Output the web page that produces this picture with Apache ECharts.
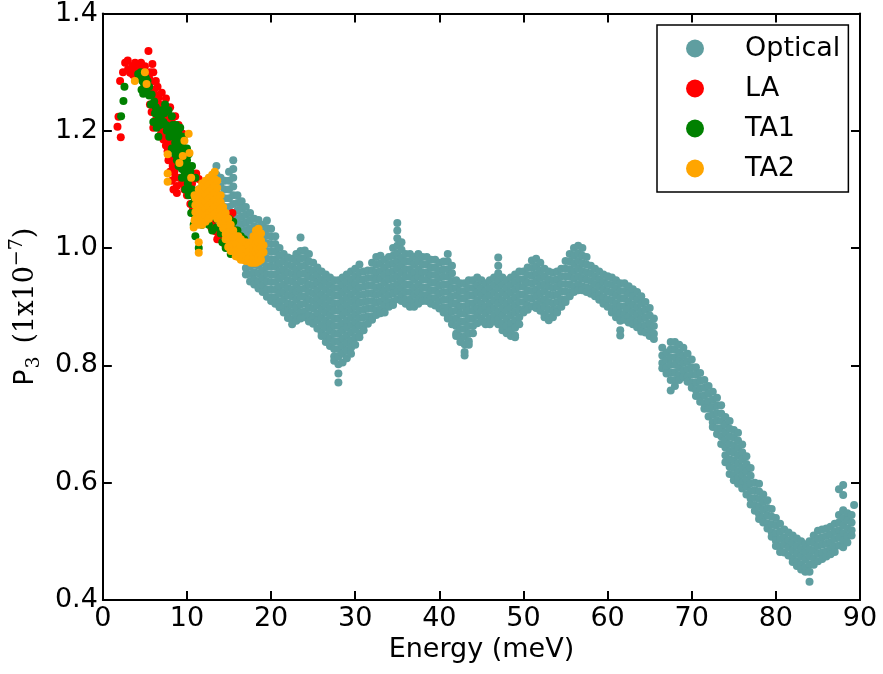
<!DOCTYPE html>
<html>
<head>
<meta charset="utf-8">
<script src="https://cdn.jsdelivr.net/npm/echarts@6/dist/echarts.min.js"></script>
<style>
html,body{margin:0;padding:0;background:#fff;}
#chart{width:883px;height:674px;}
</style>
</head>
<body>
<div id="chart"></div>
<script>
// ---- tick definitions ----
var xTicks = [0, 10, 20, 30, 40, 50, 60, 70, 80, 90];
var yTicks = [0.4, 0.6, 0.8, 1.0, 1.2, 1.4];

// ---- Optical: each row = [energy, P3 values read at that energy...] ----
var opticalA = [
[13.5,1.14,1.125,1.11,1.095,1.08,1.065,1.05],
[14.0,1.12,1.105,1.09,1.075,1.06,1.045],
[14.5,1.115,1.1,1.085,1.07,1.055,1.04,1.03],
[15.0,1.13,1.115,1.1,1.085,1.07,1.055,1.04,1.025],
[15.5,1.15,1.135,1.12,1.105,1.09,1.075,1.06,1.045,1.03,1.015],
[16.0,1.09,1.077,1.064,1.051,1.038,1.025,1.012,1.0],
[16.5,1.08,1.067,1.054,1.041,1.028,1.015,1.002,0.99],
[17.0,1.07,1.057,1.044,1.031,1.018,1.005,0.992,0.979,0.966,0.955],
[17.5,1.06,1.047,1.034,1.021,1.008,0.995,0.982,0.969,0.956,0.943],
[18.0,1.05,1.037,1.024,1.011,0.998,0.985,0.972,0.959,0.946,0.938],
[18.5,1.048,1.035,1.022,1.009,0.996,0.983,0.97,0.957,0.944,0.931],
[19.0,1.04,1.027,1.014,1.001,0.988,0.975,0.962,0.949,0.936,0.925],
[19.5,1.047,1.034,1.021,1.008,0.995,0.982,0.969,0.956,0.943,0.93,0.917],
[20.0,1.033,1.02,1.007,0.994,0.981,0.968,0.955,0.942,0.929,0.916,0.91],
[20.5,1.02,1.007,0.994,0.981,0.968,0.955,0.942,0.929,0.916,0.905],
[21.0,1.0,0.987,0.974,0.961,0.948,0.935,0.922,0.909,0.899],
[21.5,0.99,0.977,0.964,0.951,0.938,0.925,0.912,0.899,0.89],
[22.0,0.984,0.971,0.958,0.945,0.932,0.919,0.906,0.893,0.881],
[22.5,0.982,0.969,0.956,0.943,0.93,0.917,0.904,0.891,0.878,0.87],
[23.0,0.99,0.977,0.964,0.951,0.938,0.925,0.912,0.899,0.886,0.876],
[23.5,1.018,0.995,0.982,0.969,0.956,0.943,0.93,0.917,0.904,0.891,0.88],
[24.0,0.996,0.983,0.97,0.957,0.944,0.931,0.918,0.905,0.892,0.882],
[24.5,0.99,0.977,0.964,0.951,0.938,0.925,0.912,0.899,0.886,0.875],
[25.0,0.975,0.962,0.949,0.936,0.923,0.91,0.897,0.884,0.871],
[25.5,0.967,0.954,0.941,0.928,0.915,0.902,0.889,0.876,0.863],
[26.0,0.96,0.947,0.934,0.921,0.908,0.895,0.882,0.869,0.856,0.85],
[26.5,0.955,0.942,0.929,0.916,0.903,0.89,0.877,0.864,0.851,0.84],
[27.0,0.95,0.937,0.924,0.911,0.898,0.885,0.872,0.859,0.846,0.833],
[27.5,0.945,0.932,0.919,0.906,0.893,0.88,0.867,0.854,0.841,0.828,0.815,0.808],
[28.0,0.945,0.932,0.919,0.906,0.893,0.88,0.867,0.854,0.841,0.828,0.815,0.802,0.786,0.771],
[28.5,0.95,0.937,0.924,0.911,0.898,0.885,0.872,0.859,0.846,0.833,0.82,0.805],
[29.0,0.955,0.942,0.929,0.916,0.903,0.89,0.877,0.864,0.851,0.838,0.825,0.812],
[29.5,0.96,0.947,0.934,0.921,0.908,0.895,0.882,0.869,0.856,0.843,0.83,0.82],
[30.0,0.965,0.952,0.939,0.926,0.913,0.9,0.887,0.874,0.861,0.848,0.835],
[30.5,0.972,0.959,0.946,0.933,0.92,0.907,0.894,0.881,0.868,0.855,0.848]
];
var opticalB = [
[31.0,0.96,0.947,0.934,0.921,0.908,0.895,0.882,0.869,0.86],
[31.5,0.962,0.949,0.936,0.923,0.91,0.897,0.884,0.871],
[32.0,0.975,0.962,0.949,0.936,0.923,0.91,0.897,0.884,0.878],
[32.5,0.985,0.972,0.959,0.946,0.933,0.92,0.907,0.894,0.886],
[33.0,0.987,0.974,0.961,0.948,0.935,0.922,0.909,0.896,0.889],
[33.5,0.98,0.967,0.954,0.941,0.928,0.915,0.902,0.89],
[34.0,0.985,0.972,0.959,0.946,0.933,0.92,0.907,0.9],
[34.5,1.0,0.987,0.974,0.961,0.948,0.935,0.922,0.909,0.903],
[35.0,1.043,1.03,1.017,1.004,0.991,0.978,0.965,0.952,0.939,0.926,0.913],
[35.5,1.01,0.997,0.984,0.971,0.958,0.945,0.932,0.919,0.91],
[36.0,0.99,0.977,0.964,0.951,0.938,0.925,0.912,0.905],
[36.5,0.99,0.977,0.964,0.951,0.938,0.925,0.912,0.9],
[37.0,0.985,0.972,0.959,0.946,0.933,0.92,0.907,0.9],
[37.5,0.99,0.977,0.964,0.951,0.938,0.925,0.912,0.905],
[38.0,0.985,0.972,0.959,0.946,0.933,0.92,0.91],
[38.5,0.985,0.972,0.959,0.946,0.933,0.92,0.91],
[39.0,0.98,0.967,0.954,0.941,0.928,0.915,0.905],
[39.5,0.98,0.967,0.954,0.941,0.928,0.915,0.902],
[40.0,0.975,0.962,0.949,0.936,0.923,0.91,0.897],
[40.5,0.977,0.964,0.951,0.938,0.925,0.912,0.899,0.89],
[41.0,0.99,0.977,0.964,0.951,0.938,0.925,0.912,0.899,0.886,0.88],
[41.5,0.97,0.957,0.944,0.931,0.918,0.905,0.892,0.879,0.87],
[42.0,0.945,0.932,0.919,0.906,0.893,0.88,0.867,0.854,0.85],
[42.5,0.94,0.927,0.914,0.901,0.888,0.875,0.862,0.849,0.84],
[43.0,0.94,0.927,0.914,0.901,0.888,0.875,0.862,0.849,0.836,0.823,0.817],
[43.5,0.945,0.932,0.919,0.906,0.893,0.88,0.867,0.854,0.841,0.835],
[44.0,0.945,0.932,0.919,0.906,0.893,0.88,0.867,0.855],
[44.5,0.95,0.937,0.924,0.911,0.898,0.885,0.872],
[45.0,0.945,0.932,0.919,0.906,0.893,0.88,0.875],
[45.5,0.94,0.927,0.914,0.901,0.888,0.875,0.87],
[46.0,0.945,0.932,0.919,0.906,0.893,0.88,0.87],
[46.5,0.95,0.937,0.924,0.911,0.898,0.885,0.875],
[47.0,0.984,0.97,0.957,0.944,0.931,0.918,0.905,0.892,0.879,0.87],
[47.5,0.95,0.937,0.924,0.911,0.898,0.885,0.872,0.86],
[48.0,0.945,0.932,0.919,0.906,0.893,0.88,0.867,0.855],
[48.5,0.95,0.937,0.924,0.911,0.898,0.885,0.872,0.859,0.85],
[49.0,0.955,0.942,0.929,0.916,0.903,0.89,0.877,0.864,0.851,0.848],
[49.5,0.96,0.947,0.934,0.921,0.908,0.895,0.882,0.87],
[50.0,0.96,0.947,0.934,0.921,0.908,0.895,0.89],
[50.5,0.967,0.954,0.941,0.928,0.915,0.902,0.895]
];
var opticalC = [
[51.0,0.979,0.966,0.953,0.94,0.927,0.914,0.901],
[51.5,0.982,0.969,0.956,0.943,0.93,0.917,0.904,0.898],
[52.0,0.975,0.962,0.949,0.936,0.923,0.91,0.897,0.893],
[52.5,0.965,0.952,0.939,0.926,0.913,0.9,0.887,0.882],
[53.0,0.96,0.947,0.934,0.921,0.908,0.895,0.882,0.877],
[53.5,0.958,0.945,0.932,0.919,0.906,0.893,0.882],
[54.0,0.96,0.947,0.934,0.921,0.908,0.895,0.89],
[54.5,0.965,0.952,0.939,0.926,0.913,0.9],
[55.0,0.978,0.965,0.952,0.939,0.926,0.913,0.908],
[55.5,0.99,0.977,0.964,0.951,0.938,0.925,0.918],
[56.0,1.0,0.987,0.974,0.961,0.948,0.935,0.925],
[56.5,1.004,0.991,0.978,0.965,0.952,0.939,0.928],
[57.0,1.0,0.987,0.974,0.961,0.948,0.935,0.928],
[57.5,0.985,0.972,0.959,0.946,0.933,0.925],
[58.0,0.97,0.957,0.944,0.931,0.922],
[58.5,0.965,0.952,0.939,0.926,0.918],
[59.0,0.96,0.947,0.934,0.921,0.912],
[59.5,0.955,0.942,0.929,0.916,0.905],
[60.0,0.952,0.939,0.926,0.913,0.9],
[60.5,0.95,0.937,0.924,0.911,0.898,0.89],
[61.0,0.945,0.932,0.919,0.906,0.893,0.882],
[61.5,0.94,0.927,0.914,0.901,0.888,0.876,0.86,0.851],
[62.0,0.94,0.927,0.914,0.901,0.888,0.878],
[62.5,0.935,0.922,0.909,0.896,0.883,0.873],
[63.0,0.93,0.917,0.904,0.891,0.878,0.87],
[63.5,0.925,0.912,0.899,0.886,0.873,0.865],
[64.0,0.918,0.905,0.892,0.879,0.866,0.858],
[64.5,0.908,0.895,0.882,0.869,0.856],
[65.0,0.898,0.885,0.872,0.859,0.85],
[65.5,0.88,0.867,0.854,0.845],
[66.5,0.83,0.817,0.804,0.795],
[67.0,0.822,0.809,0.796,0.786],
[67.5,0.84,0.827,0.814,0.801,0.788,0.775,0.757],
[68.0,0.84,0.827,0.814,0.801,0.788,0.775,0.765],
[68.5,0.835,0.822,0.809,0.796,0.783,0.775],
[69.0,0.83,0.817,0.804,0.791,0.78],
[69.5,0.82,0.807,0.794,0.781,0.772],
[70.0,0.81,0.797,0.784,0.771,0.762]
];
var opticalD = [
[70.5,0.797,0.784,0.771,0.758,0.748],
[71.0,0.787,0.774,0.761,0.748,0.738],
[71.5,0.775,0.762,0.749,0.736,0.726],
[72.0,0.765,0.752,0.739,0.726,0.713],
[72.5,0.755,0.742,0.729,0.716,0.703,0.695],
[73.0,0.745,0.732,0.719,0.706,0.693,0.683],
[73.5,0.732,0.718,0.705,0.692,0.679,0.666],
[74.0,0.712,0.699,0.686,0.673,0.66,0.647,0.635],
[74.5,0.705,0.692,0.679,0.666,0.653,0.64,0.627,0.615],
[75.0,0.69,0.677,0.664,0.651,0.638,0.625,0.612,0.604],
[75.5,0.685,0.672,0.659,0.646,0.633,0.62,0.607,0.598],
[76.0,0.665,0.652,0.639,0.626,0.613,0.6,0.59],
[76.5,0.645,0.632,0.619,0.606,0.593,0.58],
[77.0,0.625,0.612,0.599,0.586,0.573,0.563],
[77.5,0.6,0.587,0.574,0.561,0.552],
[78.0,0.598,0.585,0.572,0.559,0.546,0.538],
[78.5,0.58,0.567,0.554,0.541,0.532],
[79.0,0.57,0.557,0.544,0.531,0.522],
[79.5,0.555,0.542,0.529,0.516,0.508],
[80.0,0.54,0.527,0.514,0.501,0.492],
[80.5,0.53,0.517,0.504,0.491,0.482],
[81.0,0.52,0.507,0.494,0.481],
[81.5,0.515,0.502,0.489,0.476],
[82.0,0.51,0.497,0.484,0.471,0.465],
[82.5,0.505,0.492,0.479,0.466,0.458],
[83.0,0.5,0.487,0.474,0.461,0.452],
[83.5,0.495,0.482,0.469,0.456,0.448],
[84.0,0.5,0.487,0.474,0.461,0.448,0.431],
[84.5,0.51,0.497,0.484,0.471,0.46],
[85.0,0.518,0.505,0.492,0.479,0.466],
[85.5,0.52,0.507,0.494,0.481,0.47],
[86.0,0.522,0.509,0.496,0.483,0.474],
[86.5,0.525,0.512,0.499,0.486,0.478],
[87.0,0.53,0.517,0.504,0.491,0.482],
[87.5,0.589,0.545,0.532,0.519,0.506,0.493],
[88.0,0.596,0.579,0.553,0.54,0.527,0.514,0.501,0.49],
[88.5,0.548,0.535,0.522,0.509,0.498],
[89.0,0.545,0.532,0.519,0.51],
[89.3,0.562]
];

// ---- LA: [energy, P3] ----
var laPoints = [
[1.74,1.207],[1.86,1.224],[2.13,1.189],[2.05,1.285],[2.65,1.316],[2.96,1.32],[3.24,1.299],[3.5,1.31],
[3.83,1.316],[4.23,1.307],[4.54,1.316],[5.42,1.336],[5.89,1.314],[4.6,1.29],[4.9,1.295],[5.1,1.28],
[5.3,1.27],[5.5,1.29],[5.7,1.283],[5.9,1.265],[6.1,1.27],[6.3,1.26],[6.6,1.256],[5.6,1.245],
[6.2,1.217],[6.0,1.205],[5.8,1.232],[6.4,1.24],[6.8,1.245],[7.1,1.24],[7.4,1.23],[7.7,1.225],
[7.9,1.22],[8.2,1.215],[8.5,1.205],[6.9,1.194],[7.3,1.2],[7.6,1.19],[8.0,1.18],[7.8,1.15],
[8.0,1.13],[8.2,1.115],[8.4,1.1],[8.8,1.094],[8.8,1.106],[8.6,1.12],[8.9,1.14],[9.0,1.16],
[9.2,1.18],[9.4,1.17],[9.6,1.15],[9.8,1.13],[10.0,1.14],[10.3,1.12],[10.6,1.11],[11.1,1.127],
[11.4,1.118],[10.8,1.09],[11.2,1.08],[11.6,1.07],[12.1,1.064],[12.4,1.055],[12.7,1.045],[13.0,1.04],
[13.2,1.03],[13.5,1.028],[13.8,1.02],[14.1,1.024],[14.5,1.007],[15.1,1.052],[12.5,1.07],[13.3,1.06],
[15.4,1.06],[12.9,1.035],[13.6,1.015],
[6.5,1.23],[6.7,1.215],[7.0,1.2],[7.2,1.185],[7.5,1.175],[7.7,1.165],[8.1,1.15],[8.3,1.14],
[8.5,1.13],[9.1,1.12],[9.4,1.11],[9.7,1.1],[10.0,1.09],[10.4,1.075],[10.7,1.065],[11.0,1.055],
[6.0,1.3],[6.5,1.275],[7.0,1.265],[7.5,1.255],[8.0,1.24],[8.6,1.225],[9.0,1.21],[9.5,1.195],
[4.0,1.3],[4.3,1.295],[3.0,1.305],[2.4,1.3],[5.0,1.31],[5.6,1.3],[3.6,1.295],[6.3,1.285]
];

// ---- TA1: [energy, P3] ----
var ta1Points = [
[2.17,1.225],[2.45,1.251],[2.57,1.275],[4.2,1.297],[4.4,1.29],[4.7,1.285],[5.0,1.275],[4.6,1.27],
[4.8,1.263],[5.3,1.285],[5.5,1.275],[5.8,1.262],[4.5,1.3],[5.1,1.29],[6.1,1.25],[6.3,1.24],
[6.6,1.22],[6.4,1.205],[6.6,1.19],[6.2,1.23],[6.0,1.215],[6.8,1.21],[7.0,1.235],[7.3,1.23],
[7.2,1.215],[7.6,1.2],[7.9,1.19],[8.1,1.2],[8.4,1.195],[8.6,1.18],[8.8,1.17],[9.0,1.18],
[9.2,1.19],[9.4,1.175],[9.6,1.16],[9.8,1.17],[10.0,1.15],[10.2,1.14],[9.3,1.15],[9.5,1.14],
[9.7,1.13],[9.9,1.12],[10.1,1.11],[10.3,1.12],[10.5,1.1],[10.7,1.09],[10.9,1.08],[11.1,1.09],
[11.3,1.07],[11.5,1.065],[11.7,1.06],[11.0,1.06],[11.2,1.05],[10.8,1.04],[10.6,1.075],[10.4,1.13],
[10.0,1.17],[9.6,1.19],[9.2,1.205],[8.7,1.21],[8.3,1.21],[9.0,1.14],[8.8,1.15],[9.4,1.12],
[9.8,1.1],[10.2,1.09],[10.5,1.06],[11.0,1.02],[11.4,1.0],[12.2,1.07],[12.6,1.06],[13.0,1.055],
[13.5,1.05],[14.0,1.04],[14.5,1.035],[15.0,1.03],[15.3,1.04],[15.6,1.02],[15.8,1.03],[16.1,1.015],
[16.4,1.02],[16.7,1.0],[17.0,1.005],[17.3,0.995],[15.0,1.05],[15.5,1.045],[16.0,1.03],[14.2,1.01],
[14.6,1.0],[15.2,0.99],[16.5,0.987],[12.0,1.09],[12.4,1.08],[11.8,1.1],[8.0,1.2],[8.5,1.19],
[9.1,1.165],[9.9,1.15],[10.3,1.1],[11.6,1.08],
[7.4,1.245],[7.8,1.235],[8.2,1.225],[8.6,1.2],[9.0,1.195],[9.4,1.185],[9.8,1.16],[10.2,1.16],
[10.6,1.14],[11.0,1.12],[11.4,1.1],[11.8,1.08],[12.2,1.05],[12.6,1.04],[13.0,1.03],[8.2,1.17],
[8.6,1.16],[9.0,1.15],[9.4,1.135],[9.8,1.125],[10.2,1.12],[10.6,1.1],[11.0,1.08],[11.4,1.06],
[11.8,1.04],[7.5,1.21],[7.8,1.205],[6.9,1.225],[5.5,1.26],[5.2,1.265],[4.9,1.28],[6.5,1.23],
[5.7,1.245],[13.5,1.035],[14.0,1.025],[16.8,1.015],[17.5,1.0],[16.2,1.0],[15.7,0.995]
];

// ---- TA2: scattered points and columns [energy, P3 values...] ----
var ta2Points = [
[3.8,1.285],[5.0,1.3],[5.2,1.28],[7.7,1.16],[7.7,1.127],[7.7,1.113],[9.1,1.145],[9.5,1.157],
[9.7,1.183],[10.2,1.195],[10.3,1.162],[10.5,1.12],[10.9,1.09],[10.8,1.035],[10.9,1.047],[11.4,1.01],
[11.4,0.992]
];
var ta2Cols = [
[11.0,1.085,1.073,1.061,1.049],
[11.4,1.1,1.088,1.076,1.064,1.052,1.04],
[11.8,1.11,1.098,1.086,1.074,1.062,1.05,1.04],
[12.2,1.115,1.103,1.091,1.079,1.067,1.055,1.045],
[12.6,1.12,1.108,1.096,1.084,1.072,1.06,1.05],
[13.0,1.125,1.113,1.101,1.089,1.077,1.065,1.055],
[13.3,1.13,1.118,1.106,1.094,1.082,1.07,1.058],
[13.6,1.115,1.103,1.091,1.079,1.067,1.055,1.05],
[14.0,1.09,1.078,1.066,1.054,1.042],
[14.3,1.07,1.058,1.046,1.034],
[14.6,1.06,1.048,1.036,1.024,1.015],
[14.9,1.05,1.038,1.026,1.014,1.002],
[15.2,1.04,1.028,1.016,1.004,0.995],
[15.5,1.03,1.018,1.006,0.995],
[15.8,1.02,1.008,0.996,0.986],
[16.1,1.02,1.008,0.996,0.985],
[16.4,1.015,1.003,0.991,0.98],
[16.7,1.01,0.998,0.986,0.98],
[17.0,1.01,0.998,0.986,0.978],
[17.3,1.005,0.993,0.981],
[17.6,1.01,0.998,0.986,0.975],
[17.9,1.02,1.008,0.996,0.984,0.975],
[18.2,1.03,1.018,1.006,0.994,0.982,0.975],
[18.5,1.033,1.021,1.009,0.997,0.985,0.977],
[18.8,1.025,1.013,1.001,0.989,0.98],
[19.1,1.005,0.993]
];

// ---- reshape column rows into [x, y] pairs ----
function fromCols(rows) {
  var out = [];
  rows.forEach(function (r) {
    for (var i = 1; i < r.length; i++) out.push([r[0], r[i]]);
  });
  return out;
}
var opticalData = fromCols(opticalA).concat(fromCols(opticalB), fromCols(opticalC), fromCols(opticalD));
var ta2Data = ta2Points.concat(fromCols(ta2Cols));

var SANS = 'DejaVu Sans';
var SERIF = 'DejaVu Serif';
var FS = 27;

var chart = echarts.init(document.getElementById('chart'), null, {renderer: 'canvas'});

function axisCommon(pos, showLabel) {
  return {
    type: 'value',
    position: pos,
    splitLine: {show: false},
    axisLine: {show: true, onZero: false, lineStyle: {color: '#000', width: 2}},
    axisTick: {show: true, inside: true, length: 9, lineStyle: {color: '#000', width: 2}},
    axisLabel: {show: showLabel, color: '#000', fontFamily: SANS, fontSize: FS, margin: 5,
                showMinLabel: true, showMaxLabel: true, hideOverlap: false}
  };
}

var xb = axisCommon('bottom', true);
xb.min = xTicks[0]; xb.max = xTicks[xTicks.length - 1]; xb.interval = xTicks[1] - xTicks[0];
xb.name = 'Energy (meV)';
xb.nameLocation = 'middle';
xb.nameGap = 30;
xb.nameTextStyle = {color: '#000', fontFamily: SANS, fontSize: FS};
xb.axisLabel.formatter = function (v) { return String(Math.round(v)); };

var xt = axisCommon('top', false);
xt.min = xb.min; xt.max = xb.max; xt.interval = xb.interval;

var yl = axisCommon('left', true);
yl.min = yTicks[0]; yl.max = yTicks[yTicks.length - 1]; yl.interval = 0.2;
yl.axisLabel.formatter = function (v) { return v.toFixed(1); };
yl.name = '{p|P}{s|3}{t|(1x10}{e|\u22127}{t|)}';
yl.nameLocation = 'middle';
yl.nameRotate = 90;
yl.nameGap = 57;
yl.nameTextStyle = {
  color: '#000',
  rich: {
    p: {fontFamily: SANS, fontSize: FS, lineHeight: 36, color: '#000'},
    s: {fontFamily: SERIF, fontSize: 19, lineHeight: 22, verticalAlign: 'bottom', color: '#000', padding: [0, 13, 0, 1]},
    t: {fontFamily: SERIF, fontSize: FS, lineHeight: 36, color: '#000'},
    e: {fontFamily: SERIF, fontSize: 19, lineHeight: 22, verticalAlign: 'top', color: '#000'}
  }
};

var yr = axisCommon('right', false);
yr.min = yl.min; yr.max = yl.max; yr.interval = yl.interval;

function sc(name, color, data) {
  return {
    name: name, type: 'scatter', xAxisIndex: 0, yAxisIndex: 0,
    data: data, symbol: 'circle', symbolSize: 8,
    itemStyle: {color: color, opacity: 1},
    emphasis: {disabled: true}, animation: false, silent: true
  };
}

chart.setOption({
  animation: false,
  backgroundColor: '#fff',
  grid: {left: 101, right: 23, top: 12, bottom: 74, containLabel: false},
  xAxis: [xb, xt],
  yAxis: [yl, yr],
  legend: {
    show: true,
    orient: 'vertical',
    left: 657, top: 25,
    padding: [10, 8, 10, 29],
    itemWidth: 18, itemHeight: 18, itemGap: 13,
    backgroundColor: '#fff',
    borderColor: '#000', borderWidth: 1.5, borderRadius: 0,
    icon: 'circle',
    textStyle: {color: '#000', fontFamily: SANS, fontSize: FS, lineHeight: 27, padding: [0, 0, 0, 36]},
    data: ['Optical', 'LA', 'TA1', 'TA2'],
    selectedMode: false
  },
  series: [
    sc('Optical', '#5F9EA0', opticalData),
    sc('LA', '#FF0000', laPoints),
    sc('TA1', '#008000', ta1Points),
    sc('TA2', '#FFA500', ta2Data)
  ]
});
</script>
</body>
</html>
